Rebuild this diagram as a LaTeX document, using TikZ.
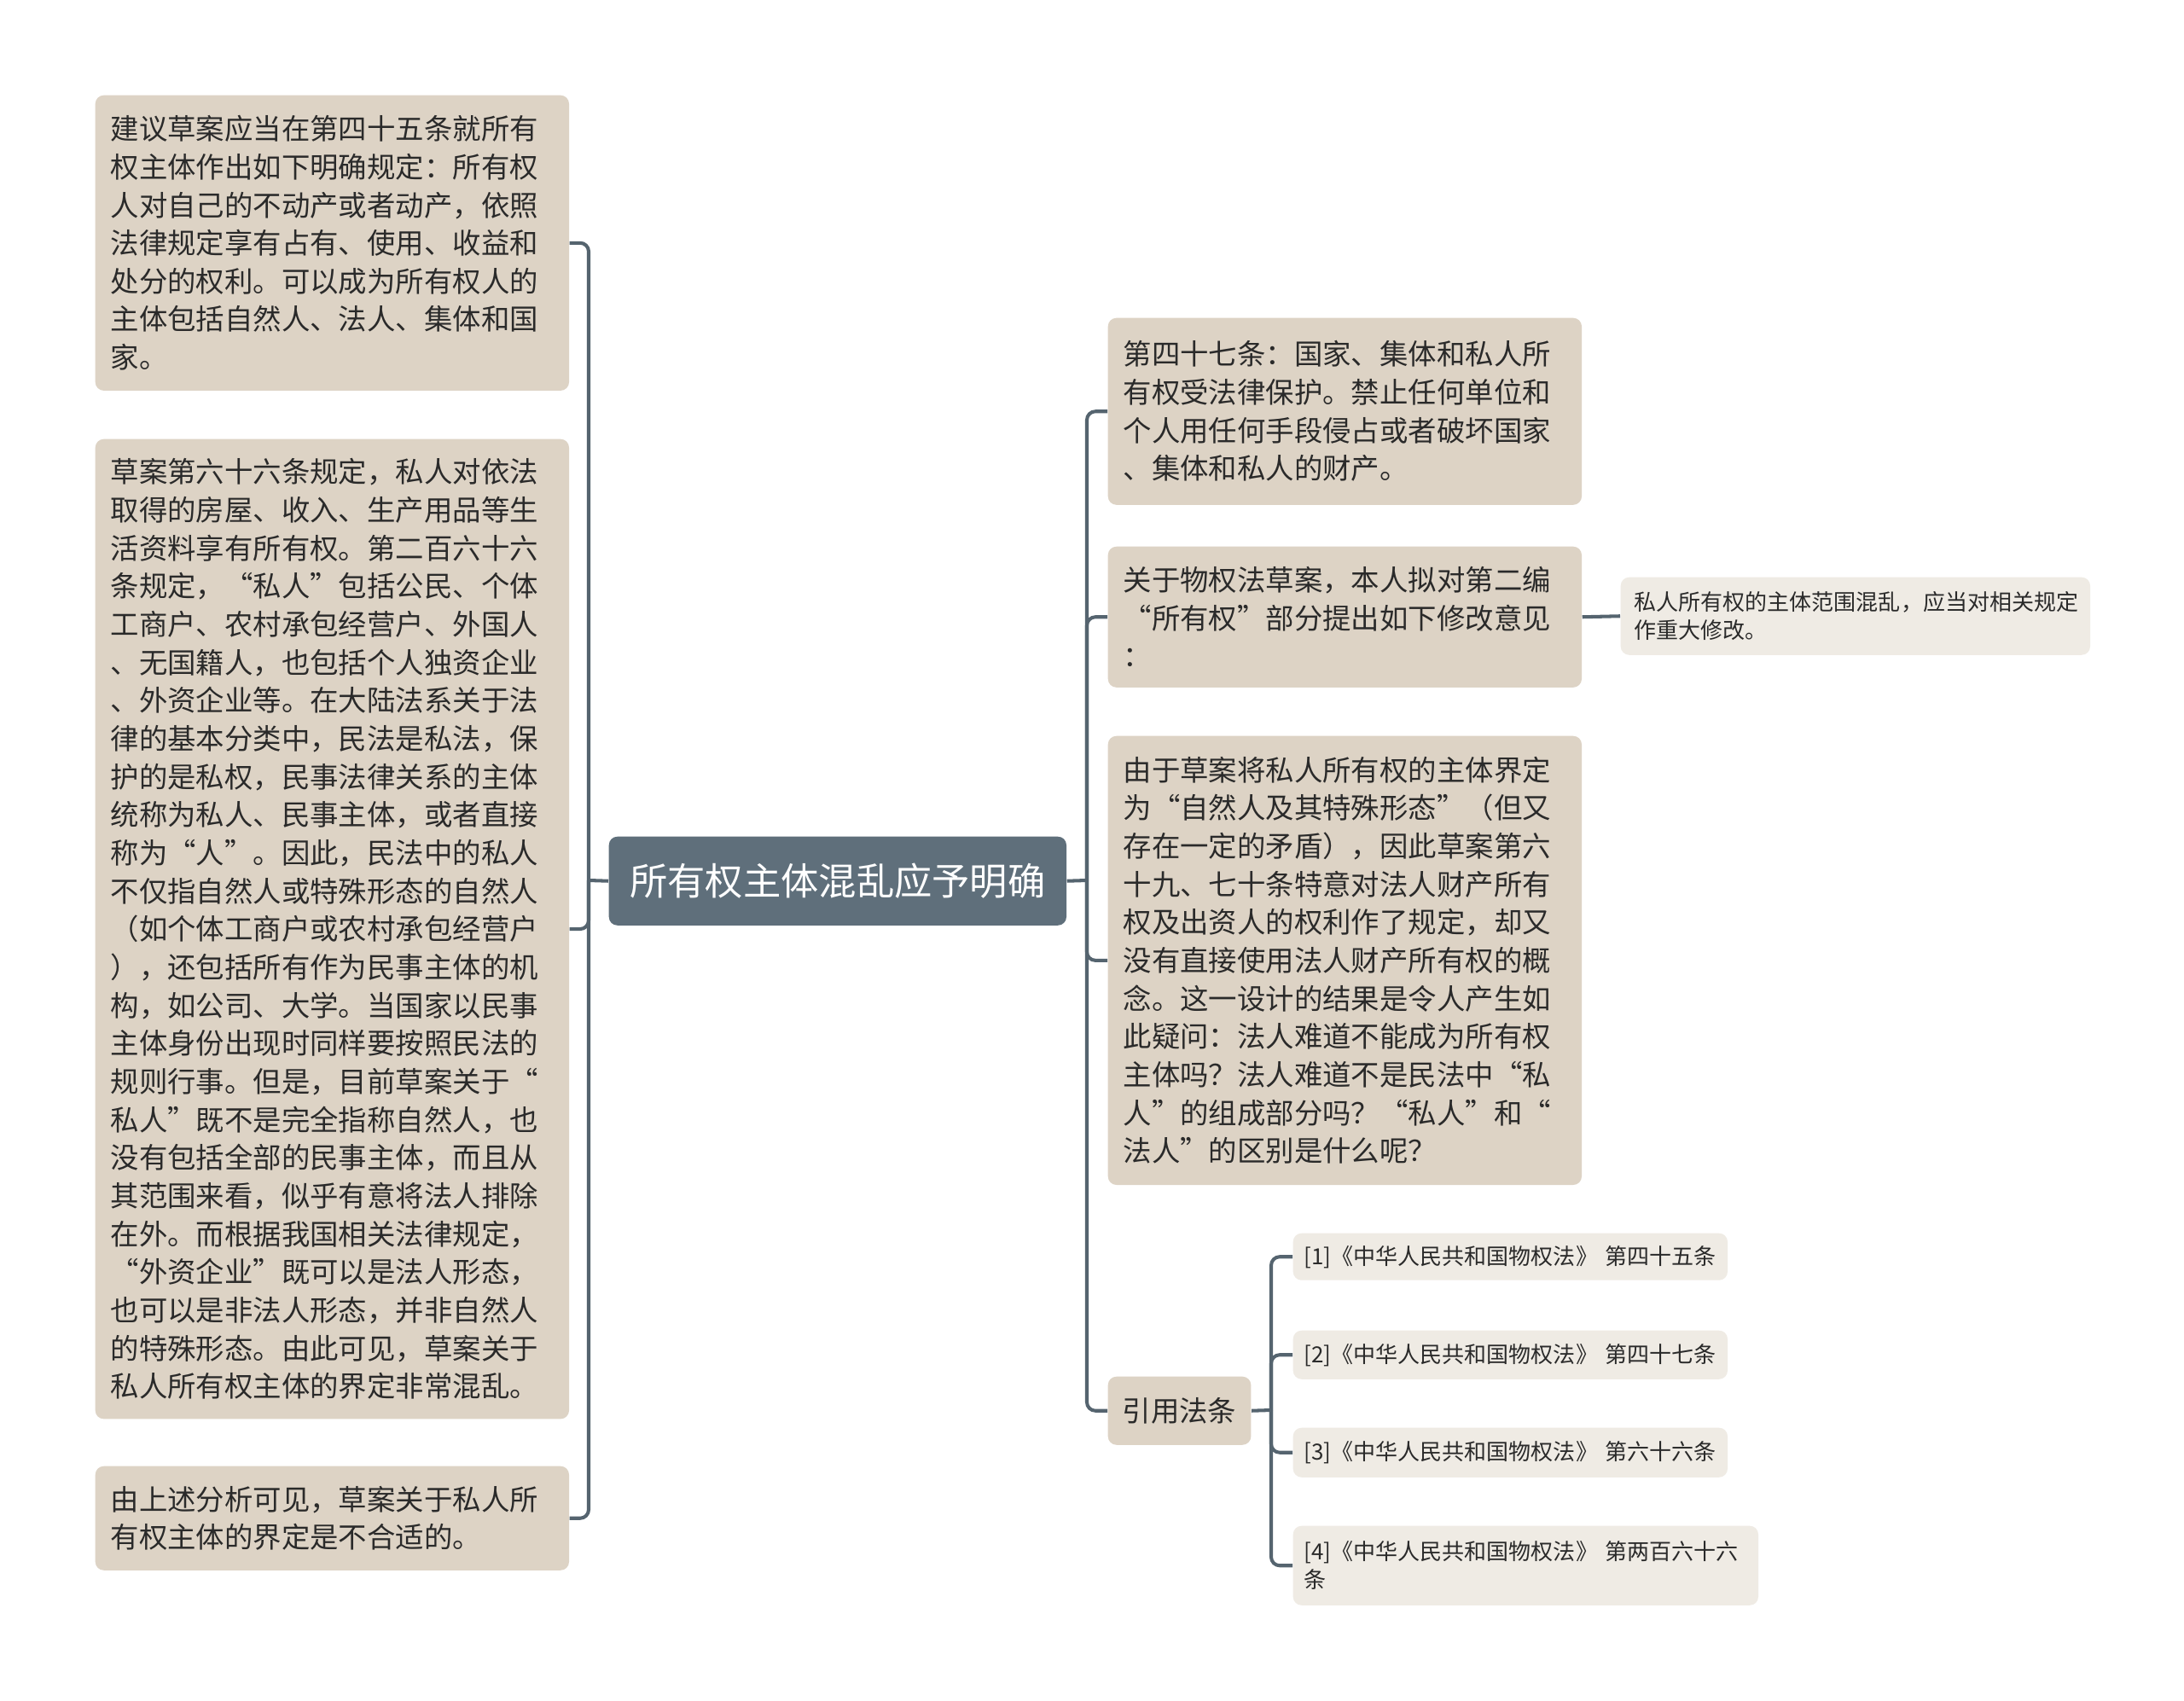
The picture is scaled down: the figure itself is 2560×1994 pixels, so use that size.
\documentclass[tikz,border=0pt]{standalone}
\usepackage{fontspec}
\setmainfont{Noto Sans CJK SC}
\definecolor{rootfill}{HTML}{5F6F7B}
\definecolor{boxfill}{HTML}{DDD3C5}
\definecolor{leaffill}{HTML}{EFEBE4}
\definecolor{linecol}{HTML}{55646F}
\definecolor{textcol}{HTML}{2A2A2A}
\tikzset{
  topic/.style={fill=rootfill, rounded corners=0.1cm, text=white, anchor=north west,
    font=\fontsize{12.6}{15}\selectfont, minimum width=5.36cm, minimum height=1.04cm, inner sep=0pt},
  subbox/.style={fill=boxfill, rounded corners=0.1cm, text=textcol, anchor=north west, align=left,
    font=\fontsize{9.5}{12.7}\selectfont, inner xsep=0.18cm, inner ysep=0.1cm, text width=5.19cm},
  leafbox/.style={fill=leaffill, rounded corners=0.1cm, text=textcol, anchor=north west, align=left,
    font=\fontsize{7.4}{9.4}\selectfont, inner xsep=0.13cm, inner ysep=0.05cm},
  link/.style={draw=linecol, line width=1.15pt, rounded corners=0.1cm}
}
\begin{document}
\begin{tikzpicture}[x=0.01cm, y=-0.01cm]
    \fill[white] (0,0) rectangle (2560,1994);
    \useasboundingbox (0,0) rectangle (2560,1994);
    % root
    \node[topic] (root) at (713,980) {所有权主体混乱应予明确};
    % left side
    \node[subbox, minimum height=3.46cm] (L1) at (111,111) {建议草案应当在第四十五条就所有\\权主体作出如下明确规定：所有权\\人对自己的不动产或者动产，依照\\法律规定享有占有、使用、收益和\\处分的权利。可以成为所有权人的\\主体包括自然人、法人、集体和国\\家。};
    \node[subbox, minimum height=11.48cm] (L2) at (111,514) {草案第六十六条规定，私人对依法\\取得的房屋、收入、生产用品等生\\活资料享有所有权。第二百六十六\\条规定，“私人”包括公民、个体\\工商户、农村承包经营户、外国人\\、无国籍人，也包括个人独资企业\\、外资企业等。在大陆法系关于法\\律的基本分类中，民法是私法，保\\护的是私权，民事法律关系的主体\\统称为私人、民事主体，或者直接\\称为“人”。因此，民法中的私人\\不仅指自然人或特殊形态的自然人\\（如个体工商户或农村承包经营户\\），还包括所有作为民事主体的机\\构，如公司、大学。当国家以民事\\主体身份出现时同样要按照民法的\\规则行事。但是，目前草案关于“\\私人”既不是完全指称自然人，也\\没有包括全部的民事主体，而且从\\其范围来看，似乎有意将法人排除\\在外。而根据我国相关法律规定，\\“外资企业”既可以是法人形态，\\也可以是非法人形态，并非自然人\\的特殊形态。由此可见，草案关于\\私人所有权主体的界定非常混乱。};
    \node[subbox, minimum height=1.22cm] (L3) at (111,1718) {由上述分析可见，草案关于私人所\\有权主体的界定是不合适的。};
    % right side
    \node[subbox, minimum height=2.19cm] (R1) at (1298,372) {第四十七条：国家、集体和私人所\\有权受法律保护。禁止任何单位和\\个人用任何手段侵占或者破坏国家\\、集体和私人的财产。};
    \node[subbox, minimum height=1.65cm] (R2) at (1298,640) {关于物权法草案，本人拟对第二编\\“所有权”部分提出如下修改意见\\：};
    \node[leafbox, text width=5.18cm, inner xsep=0.16cm, minimum height=0.91cm] (R2a) at (1899,676) {私人所有权的主体范围混乱，应当对相关规定\\作重大修改。};
    \node[subbox, minimum height=5.26cm] (R3) at (1298,862) {由于草案将私人所有权的主体界定\\为“自然人及其特殊形态”（但又\\存在一定的矛盾），因此草案第六\\十九、七十条特意对法人财产所有\\权及出资人的权利作了规定，却又\\没有直接使用法人财产所有权的概\\念。这一设计的结果是令人产生如\\此疑问：法人难道不能成为所有权\\主体吗？法人难道不是民法中“私\\人”的组成部分吗？“私人”和“\\法人”的区别是什么呢？};
    \node[subbox, text width=, inner xsep=0.17cm, minimum height=0.80cm] (R4) at (1298,1613) {引用法条};
    % cited articles
    \node[leafbox, text width=4.83cm, minimum height=0.55cm] (F1) at (1515,1445) {[1]《中华人民共和国物权法》 第四十五条};
    \node[leafbox, text width=4.83cm, minimum height=0.57cm] (F2) at (1515,1559) {[2]《中华人民共和国物权法》 第四十七条};
    \node[leafbox, text width=4.83cm, minimum height=0.58cm] (F3) at (1515,1673) {[3]《中华人民共和国物权法》 第六十六条};
    \node[leafbox, text width=5.19cm, minimum height=0.93cm] (F4) at (1515,1788) {[4]《中华人民共和国物权法》 第两百六十六\\条};
    % connectors
    \coordinate (jL) at (690,1032);
    \coordinate (jR) at (1274,1032);
    \coordinate (jF) at (1490,1653);
    \draw[link] (root.west) -- (jL);
    \foreach \n in {L1,L2,L3} \draw[link] (jL) |- (\n.east);
    \draw[link] (root.east) -- (jR);
    \foreach \n in {R1,R2,R3,R4} \draw[link] (jR) |- (\n.west);
    \draw[link] (R2.east) -- (R2a.west);
    \draw[link] (R4.east) -- (jF);
    \foreach \n in {F1,F2,F3,F4} \draw[link] (jF) |- (\n.west);
\end{tikzpicture}
\end{document}
